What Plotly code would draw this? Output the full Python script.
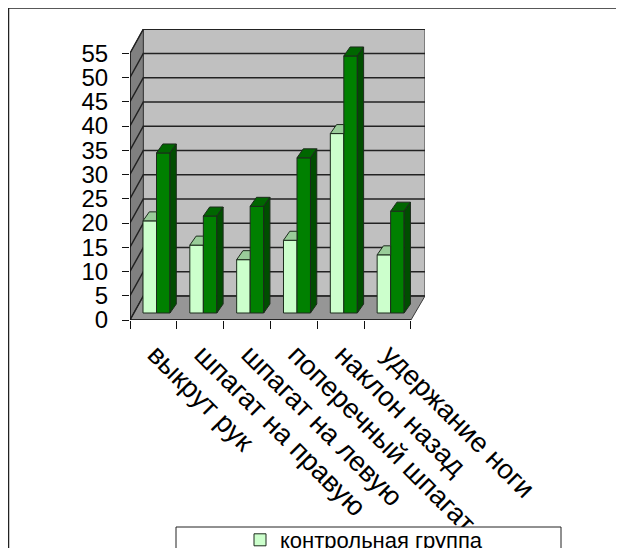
import plotly.graph_objects as go

categories = ["выкрут рук", "шпагат на правую", "шпагат на левую",
              "поперечный шпагат", "наклон назад", "удержание ноги"]
control = [20, 15, 12, 16, 38, 13]
experimental = [34, 21, 23, 33, 54, 22]
y_ticks = list(range(0, 60, 5))
name_control = "контрольная группа"
name_experimental = "экспериментальная группа"

# pixel frame of the plot (page coordinates; the page body has an 8 px margin)
PAGE = 8
L, T, R, B = 130, 29, 425, 320
W, H = 624, 548
PX_X = 46.83
PX_Y = 4.85
FONT = "Liberation Sans, Arial, sans-serif"
wall_dx, wall_dy = 13.3 / PX_X, 24 / PX_Y
bar_dx, bar_dy = 6.3 / PX_X, 9 / PX_Y
bar_w = 13.5 / PX_X
bar_floor = 7 / PX_Y
lift = 0.44
off_light, off_dark = 0.4217, 0.71
n = len(categories)
ymax = (B - T) / PX_Y
xmax = (R - L) / PX_X


def px(x):
    return (x - L) / (R - L)


def py(y):
    return (B - y) / (B - T)


def poly(pts):
    return "M" + " L".join(f"{a},{b}" for a, b in pts) + " Z"


shapes = []
shapes.append(dict(type="path", layer="below", xref="x", yref="y", fillcolor="#C0C0C0",
                   line=dict(color="#3a3a3a", width=1),
                   path=poly([(wall_dx, wall_dy), (xmax, wall_dy), (xmax, ymax), (wall_dx, ymax)])))
shapes.append(dict(type="path", layer="below", xref="x", yref="y", fillcolor="#808080",
                   line=dict(color="#3a3a3a", width=1),
                   path=poly([(0, 0), (wall_dx, wall_dy), (wall_dx, ymax), (0, y_ticks[-1])])))
shapes.append(dict(type="path", layer="below", xref="x", yref="y", fillcolor="#969696",
                   line=dict(color="#3a3a3a", width=1),
                   path=poly([(0, 0), (n, 0), (xmax, wall_dy), (wall_dx, wall_dy)])))
for v in y_ticks:
    shapes.append(dict(type="path", layer="below", xref="x", yref="y",
                       line=dict(color="#222222", width=1.5),
                       path=f"M0,{v} L{wall_dx},{v + wall_dy} L{xmax},{v + wall_dy}"))
shapes.append(dict(type="line", layer="below", xref="x", yref="y", x0=0, x1=0, y0=0, y1=y_ticks[-1],
                   line=dict(color="#111111", width=1.5)))
shapes.append(dict(type="line", layer="below", xref="x", yref="y", x0=0, x1=n, y0=0, y1=0,
                   line=dict(color="#111111", width=1.5)))
# outer chart frame and legend box
shapes.append(dict(type="rect", layer="below", xref="paper", yref="paper",
                   x0=px(8.5), x1=px(700), y0=py(600), y1=py(8),
                   line=dict(color="#222222", width=1.5), fillcolor="rgba(0,0,0,0)"))
shapes.append(dict(type="rect", layer="above", xref="paper", yref="paper",
                   x0=px(176), x1=px(561), y0=py(600), y1=py(527),
                   line=dict(color="#222222", width=1), fillcolor="white"))

fig = go.Figure()
bar_line = dict(color="#1c2b1c", width=1)
fig.add_trace(go.Bar(x=[i + off_light for i in range(n)], y=[v + lift - bar_floor for v in control],
                     base=bar_floor, width=bar_w, name=name_control,
                     marker=dict(color="#CCFFCC", line=bar_line), hoverinfo="skip"))
fig.add_trace(go.Bar(x=[i + off_dark for i in range(n)], y=[v + lift - bar_floor for v in experimental],
                     base=bar_floor, width=bar_w, name=name_experimental,
                     marker=dict(color="#008000", line=bar_line), hoverinfo="skip"))


def face(xs, ys, color):
    fig.add_trace(go.Scatter(x=xs, y=ys, mode="lines", fill="toself", fillcolor=color,
                             line=dict(color="#1c2b1c", width=1), showlegend=False, hoverinfo="skip"))


for i in range(n):
    x0 = i + off_light - bar_w / 2
    x1 = i + off_light + bar_w / 2
    t = control[i] + lift
    face([x0, x1, x1, x0 + bar_dx, x0], [t, t, t + bar_dy, t + bar_dy, t], "#99CC99")
    x0 = i + off_dark - bar_w / 2
    x1 = i + off_dark + bar_w / 2
    t = experimental[i] + lift
    face([x0, x1, x1 + bar_dx, x0 + bar_dx, x0], [t, t, t + bar_dy, t + bar_dy, t], "#006600")
    face([x1, x1 + bar_dx, x1 + bar_dx, x1, x1],
         [bar_floor, bar_floor + bar_dy, t + bar_dy, t, bar_floor], "#004D00")

fig.update_layout(
    width=W, height=H, autosize=False,
    margin=dict(l=L - PAGE, r=W - (R - PAGE), t=T - PAGE, b=H - (B - PAGE), autoexpand=False, pad=0),
    paper_bgcolor="white", plot_bgcolor="white",
    barmode="overlay", shapes=shapes,
    font=dict(family=FONT, color="black"),
    legend=dict(x=px(240), y=py(519), xanchor="left", yanchor="top", bgcolor="rgba(0,0,0,0)",
                font=dict(size=22, family=FONT), orientation="v", traceorder="normal",
                itemclick=False, itemdoubleclick=False),
    xaxis=dict(range=[0, xmax], showgrid=False, zeroline=False, showline=False,
               tickmode="array", tickvals=[i + 0.55 for i in range(n)], ticktext=categories,
               tickangle=45, ticks="", tickfont=dict(size=27.5, family=FONT),
               ticklabelstandoff=12,
               minor=dict(tickmode="array", tickvals=list(range(n + 1)), ticks="outside",
                          ticklen=8, tickwidth=1, tickcolor="#111111", showgrid=False)),
    yaxis=dict(range=[0, ymax], showgrid=False, zeroline=False, showline=False,
               tickmode="array", tickvals=y_ticks, ticks="outside", ticklen=7, tickwidth=1,
               tickcolor="#111111", tickfont=dict(size=24, family=FONT), ticklabelstandoff=9),
)
fig.write_html("out.html", config=dict(displayModeBar=False))
